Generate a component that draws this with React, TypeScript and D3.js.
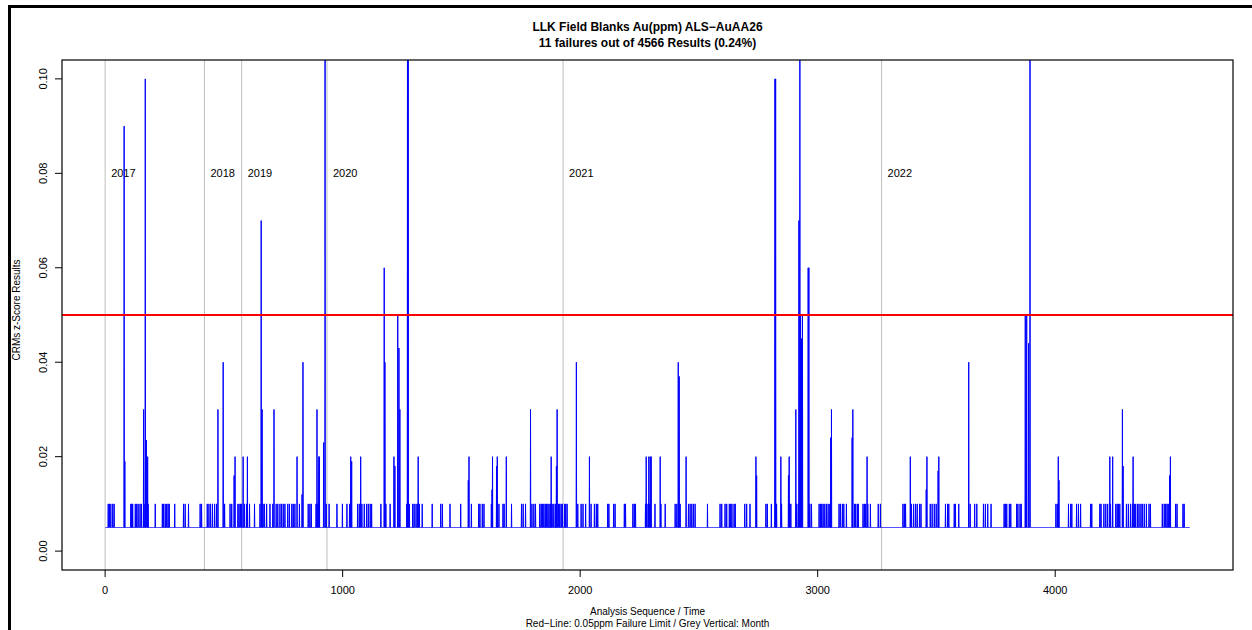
import React, { useEffect, useRef } from 'react';
import * as d3 from 'd3';

// sequence of 4566 blanks, most sit at half the detection limit
const nResults = 4566;
const baseValue = 0.005;
const failLimit = 0.05;

// samples reading 0.01 ppm
const blipIdx = [
  13, 18, 24, 32, 38, 108, 112, 116, 127, 133, 139, 147, 153, 164, 181, 211, 241, 246, 253, 259,
  265, 270, 293, 330, 337, 351, 400, 406, 430, 437, 444, 452, 461, 469, 503, 526, 533, 559, 564, 570,
  575, 587, 596, 608, 629, 652, 665, 671, 680, 694, 706, 720, 727, 736, 743, 750, 757, 769, 776, 786,
  792, 799, 818, 855, 862, 868, 888, 895,
  931, 943, 976, 999, 1018, 1029, 1063, 1070, 1081, 1091, 1101, 1108, 1116, 1122, 1161, 1182, 1200, 1270, 1281, 1295,
  1301, 1309, 1315, 1323, 1335, 1377, 1413, 1420, 1452, 1497, 1542, 1573, 1578, 1588, 1595, 1626, 1658, 1675, 1680, 1711,
  1753, 1760, 1770, 1797, 1805, 1812,
  1830, 1836, 1841, 1847, 1853, 1858, 1864, 1869, 1875, 1882, 1889, 1896, 1909, 1914, 1920, 1925, 1934, 1939, 1945, 1990,
  2004, 2012, 2023, 2046, 2060, 2068, 2074, 2116, 2121, 2141, 2147, 2186, 2191, 2222, 2228, 2233, 2275, 2281, 2287, 2292,
  2315, 2340, 2358, 2400, 2407, 2421, 2456, 2463, 2470, 2477, 2484, 2536, 2589, 2596, 2610, 2617, 2628, 2634, 2639, 2648,
  2653, 2693, 2701, 2715,
  2782, 2788, 2805, 2827, 2848, 2883, 2887, 2911, 2918, 2967, 2974, 3006, 3012, 3017, 3023, 3030, 3037, 3044, 3051, 3090,
  3096, 3104, 3110, 3121, 3155, 3160, 3167, 3171, 3191, 3197, 3202, 3211, 3222, 3255, 3264, 3359, 3365, 3370, 3395, 3404,
  3412, 3419, 3429, 3435, 3474, 3482, 3491, 3499, 3538, 3547, 3552, 3575, 3580, 3594, 3642, 3661,
  3670, 3698, 3706, 3716, 3730, 3785, 3790, 3796, 3807, 3813, 3838, 3843, 3852, 3857, 4003, 4009, 4056, 4065, 4070, 4090,
  4098, 4107, 4149, 4154, 4188, 4193, 4205, 4213, 4221, 4233, 4255, 4261, 4266, 4272, 4300, 4308, 4317, 4325, 4333, 4339,
  4347, 4353, 4361, 4367, 4375, 4384, 4395, 4401, 4451, 4459, 4465, 4471, 4476, 4507, 4513, 4538, 4543,
];

// higher readings
const spikeIdx = [
  80, 83, 162, 169, 174, 179, 475, 497, 543, 547, 581, 599, 657, 661, 711, 808, 829, 833, 892, 900,
  899, 902, 920, 926, 1034, 1038, 1076, 1175, 1178, 1216, 1220, 1232, 1237, 1241, 1273, 1276, 1318, 1529, 1532, 1629,
  1631, 1648, 1651, 1689, 1791,
  1878, 1900, 1903, 1984, 2039, 2278, 2289, 2295, 2299, 2337, 2413, 2417, 2446, 2740, 2743,
  2820, 2823, 2845, 2877, 2880, 2908, 2921, 2925, 2928, 2932, 2936, 2960, 2963, 3055, 3058, 3145, 3148, 3208, 3390, 3457,
  3460, 3507, 3510, 3636,
  3874, 3880, 3888, 3894, 4013, 4016, 4230, 4242, 4283, 4286, 4328, 4482, 4485,
];
const spikeVal = [
  0.09, 0.019, 0.03, 0.1, 0.0235, 0.02, 0.03, 0.04, 0.016, 0.02, 0.02, 0.02, 0.07, 0.03, 0.03, 0.02, 0.012, 0.04, 0.03, 0.02,
  0.016, 0.02, 0.023, 0.12, 0.02, 0.019, 0.02, 0.06, 0.04, 0.02, 0.018, 0.05, 0.043, 0.03, 0.12, 0.12, 0.02, 0.015, 0.02, 0.013,
  0.02, 0.018, 0.02, 0.02, 0.03,
  0.02, 0.018, 0.03, 0.04, 0.02, 0.02, 0.02, 0.02, 0.02, 0.02, 0.04, 0.037, 0.02, 0.02, 0.016,
  0.1, 0.1, 0.02, 0.016, 0.02, 0.03, 0.07, 0.12, 0.05, 0.045, 0.05, 0.06, 0.06, 0.024, 0.03, 0.024, 0.03, 0.02, 0.02, 0.013,
  0.02, 0.017, 0.02, 0.04,
  0.05, 0.05, 0.044, 0.12, 0.02, 0.015, 0.02, 0.02, 0.03, 0.018, 0.02, 0.016, 0.02,
];

const yearLabels = ['2017', '2018', '2019', '2020', '2021', '2022'];
const yearStart = [0, 418, 575, 934, 1928, 3269];
const xTicks = [0, 1000, 2000, 3000, 4000];
const yTicks = [0, 0.02, 0.04, 0.06, 0.08, 0.1];

const W = 1252;
const H = 630;
const margin = { top: 60, right: 19, bottom: 60, left: 62 };
const font = '"Liberation Sans", Arial, Helvetica, sans-serif';

const App = () => {
  const ref = useRef<SVGSVGElement>(null);

  useEffect(() => {
    const svg = d3.select(ref.current);
    svg.selectAll('*').remove();

    const values = new Array(nResults).fill(baseValue);
    blipIdx.forEach(i => { values[i - 1] = 0.01; });
    spikeIdx.forEach((i, k) => { values[i - 1] = spikeVal[k]; });
    const data = values.map((v, i) => [i + 1, v] as [number, number]);

    const left = margin.left;
    const right = W - margin.right;
    const top = margin.top;
    const bottom = H - margin.bottom;

    // R-style 4% padding
    const xPad = (nResults - 1) * 0.04;
    const x = d3.scaleLinear([1 - xPad, nResults + xPad], [left, right]);
    const y = d3.scaleLinear([-0.004, 0.104], [bottom, top]);

    // outer frame
    svg.append('rect')
      .attr('x', 9.5).attr('y', 6.5)
      .attr('width', W + 20).attr('height', H + 20)
      .attr('fill', 'none').attr('stroke', '#000').attr('stroke-width', 3);

    svg.append('defs').append('clipPath').attr('id', 'plotClip')
      .append('rect')
      .attr('x', left).attr('y', top)
      .attr('width', right - left).attr('height', bottom - top);

    const plot = svg.append('g').attr('clip-path', 'url(#plotClip)');

    // year lines
    plot.selectAll('line.year')
      .data(yearStart).enter()
      .append('line')
      .attr('x1', d => x(d)).attr('x2', d => x(d))
      .attr('y1', top).attr('y2', bottom)
      .attr('stroke', '#bebebe').attr('stroke-width', 1);

    plot.selectAll('text.year')
      .data(yearStart).enter()
      .append('text')
      .attr('x', d => x(d) + 6)
      .attr('y', y(0.08) + 4)
      .attr('font-family', font).attr('font-size', 11)
      .text((d, i) => yearLabels[i]);

    // results
    const line = d3.line<[number, number]>()
      .x(d => x(d[0]))
      .y(d => y(d[1]));

    plot.append('path')
      .datum(data)
      .attr('fill', 'none')
      .attr('stroke', '#0000ff')
      .attr('stroke-width', 1)
      .attr('d', line);

    // failure limit
    plot.append('line')
      .attr('x1', left).attr('x2', right)
      .attr('y1', y(failLimit)).attr('y2', y(failLimit))
      .attr('stroke', '#ff0000').attr('stroke-width', 2);

    // box
    svg.append('rect')
      .attr('x', left).attr('y', top)
      .attr('width', right - left).attr('height', bottom - top)
      .attr('fill', 'none').attr('stroke', '#000').attr('stroke-width', 1.2);

    // x axis
    const xa = svg.append('g').attr('transform', `translate(0,${bottom})`);
    xa.selectAll('line')
      .data(xTicks).enter()
      .append('line')
      .attr('x1', d => x(d)).attr('x2', d => x(d))
      .attr('y1', 0).attr('y2', 7)
      .attr('stroke', '#000');
    xa.selectAll('text')
      .data(xTicks).enter()
      .append('text')
      .attr('x', d => x(d)).attr('y', 24)
      .attr('text-anchor', 'middle')
      .attr('font-family', font).attr('font-size', 11)
      .text(d => d);

    // y axis
    const ya = svg.append('g').attr('transform', `translate(${left},0)`);
    ya.selectAll('line')
      .data(yTicks).enter()
      .append('line')
      .attr('x1', 0).attr('x2', -7)
      .attr('y1', d => y(d)).attr('y2', d => y(d))
      .attr('stroke', '#000');
    ya.selectAll('text')
      .data(yTicks).enter()
      .append('text')
      .attr('transform', d => `translate(-15,${y(d)}) rotate(-90)`)
      .attr('text-anchor', 'middle')
      .attr('font-family', font).attr('font-size', 11)
      .text(d => d.toFixed(2));

    // titles
    svg.append('text')
      .attr('x', (left + right) / 2).attr('y', 31)
      .attr('text-anchor', 'middle')
      .attr('font-family', font).attr('font-size', 12).attr('font-weight', 'bold')
      .text('LLK Field Blanks Au(ppm) ALS\u2212AuAA26');
    svg.append('text')
      .attr('x', (left + right) / 2).attr('y', 47)
      .attr('text-anchor', 'middle')
      .attr('font-family', font).attr('font-size', 12).attr('font-weight', 'bold')
      .text('11 failures out of 4566 Results (0.24%)');

    svg.append('text')
      .attr('transform', `translate(20,${(top + bottom) / 2 - 5}) rotate(-90)`)
      .attr('text-anchor', 'middle')
      .attr('font-family', font).attr('font-size', 10)
      .text('CRMs z-Score Results');

    svg.append('text')
      .attr('x', (left + right) / 2).attr('y', 615)
      .attr('text-anchor', 'middle')
      .attr('font-family', font).attr('font-size', 10)
      .text('Analysis Sequence / Time');
    svg.append('text')
      .attr('x', (left + right) / 2).attr('y', 627)
      .attr('text-anchor', 'middle')
      .attr('font-family', font).attr('font-size', 10)
      .text('Red\u2212Line: 0.05ppm Failure Limit /  Grey Vertical: Month');
  }, []);

  return (
    <svg
      ref={ref}
      width={W}
      height={H}
      style={{ position: 'absolute', left: 0, top: 0, background: '#fff' }}
    />
  );
};

export default App;
